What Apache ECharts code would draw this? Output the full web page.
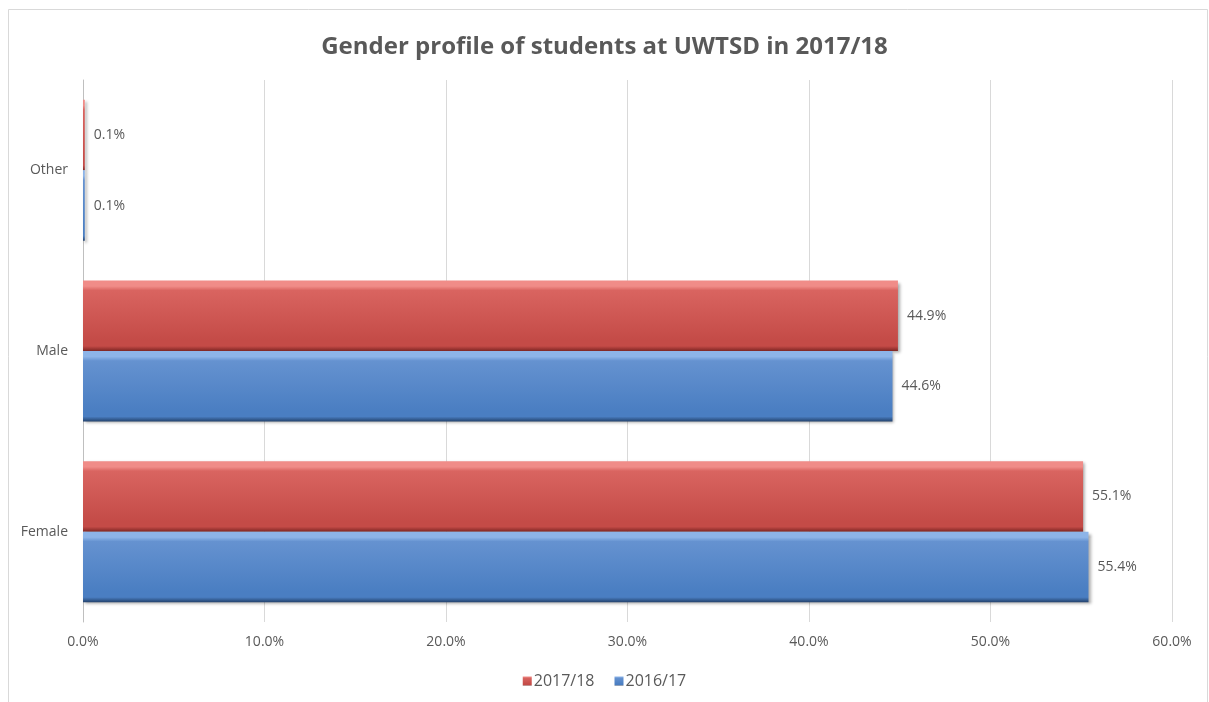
<!DOCTYPE html>
<html>
<head>
<meta charset="utf-8">
<script src="https://cdn.jsdelivr.net/npm/echarts@6/dist/echarts.min.js"></script>
<style>
html,body{margin:0;padding:0;background:#fff;}
#chart{width:1209px;height:702px;}
</style>
</head>
<body>
<div id="chart"></div>
<script>
var categories = ['Female', 'Male', 'Other'];
var seriesNames = ['2017/18', '2016/17'];
var values2017 = [55.1, 44.9, 0.1];
var values2016 = [55.4, 44.6, 0.1];
var xTicks = [0, 10, 20, 30, 40, 50, 60];

var FONT = '"Open Sans", "Liberation Sans", sans-serif';

function bevel(light, mid, base, dark) {
  return new echarts.graphic.LinearGradient(0, 0, 0, 1, [
    {offset: 0, color: light},
    {offset: 0.08, color: light},
    {offset: 0.14, color: mid},
    {offset: 0.85, color: base},
    {offset: 0.93, color: base},
    {offset: 1, color: dark}
  ]);
}
var redFill = bevel('#F08C88', '#D96460', '#C44B47', '#7E2623');
var blueFill = bevel('#8DB4E8', '#6592D0', '#4A7EC2', '#24436E');

var chart = echarts.init(document.getElementById('chart'));
var labelCfg = {
  show: true, position: 'right', distance: 9,
  color: '#595959', fontSize: 14, fontFamily: FONT,
  formatter: function (p) { return p.value.toFixed(1) + '%'; }
};
var shadow = {shadowColor: 'rgba(0,0,0,0.35)', shadowBlur: 3, shadowOffsetX: 2, shadowOffsetY: 2};
chart.setOption({
  animation: false,
  backgroundColor: '#fff',
  graphic: [{
    type: 'rect', shape: {x: 8.5, y: 9.5, width: 1199, height: 720},
    style: {fill: 'none', stroke: '#D9D9D9', lineWidth: 1}, silent: true
  }],
  title: {
    text: 'Gender profile of students at UWTSD in 2017/18',
    left: 'center', top: 30,
    textStyle: {fontFamily: FONT, fontWeight: 'bold', fontSize: 24, color: '#595959'}
  },
  legend: {
    data: seriesNames, bottom: 8, left: 'center',
    itemWidth: 9, itemHeight: 9, itemGap: 20,
    textStyle: {fontFamily: FONT, fontSize: 16, color: '#595959', padding: [0,0,0,-3]},
    icon: 'rect'
  },
  grid: {left: 83, right: 37, top: 80, bottom: 80, containLabel: false},
  xAxis: {
    type: 'value', min: xTicks[0], max: xTicks[xTicks.length - 1], interval: 10,
    axisLine: {show: false}, axisTick: {show: false},
    splitLine: {show: true, lineStyle: {color: '#D9D9D9', width: 1}},
    axisLabel: {
      margin: 13, color: '#595959', fontSize: 14, fontFamily: FONT,
      formatter: function (v) { return v.toFixed(1) + '%'; }
    }
  },
  yAxis: {
    type: 'category', data: categories,
    axisLine: {show: true, lineStyle: {color: '#BFBFBF'}}, axisTick: {show: false},
    axisLabel: {margin: 15, color: '#595959', fontSize: 14, fontFamily: FONT}
  },
  series: [
    {
      name: seriesNames[0], type: 'bar', data: values2017,
      barGap: '0%', barCategoryGap: '22%',
      itemStyle: Object.assign({color: redFill}, shadow),
      label: labelCfg
    },
    {
      name: seriesNames[1], type: 'bar', data: values2016,
      barGap: '0%', barCategoryGap: '22%',
      itemStyle: Object.assign({color: blueFill}, shadow),
      label: labelCfg
    }
  ]
});
</script>
</body>
</html>
